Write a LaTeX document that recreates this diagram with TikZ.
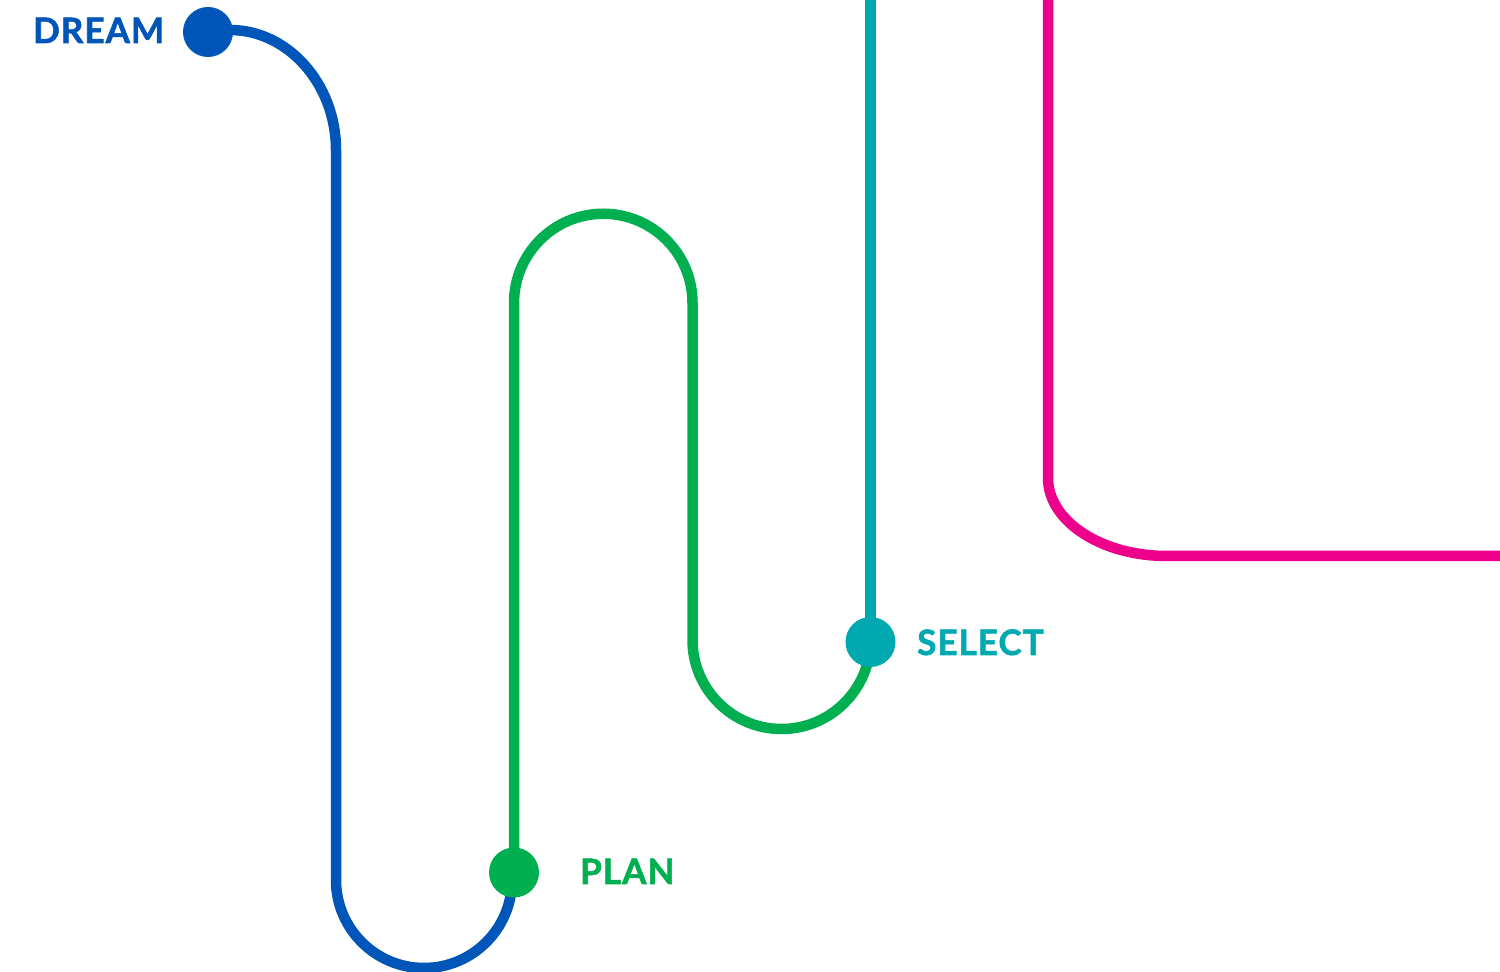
\documentclass[tikz,border=0pt]{standalone}
\usepackage{fontspec}
\newfontfamily\labelfont{Lato}[BoldFeatures={FakeBold=1.6}, LetterSpace=3]
\definecolor{dreamblue}{RGB}{0,85,184}
\definecolor{plangreen}{RGB}{0,176,80}
\definecolor{selectteal}{RGB}{0,169,176}
\definecolor{pathpink}{RGB}{236,0,140}
\tikzset{
  route/.style={line width=10.5pt, line cap=butt, line join=round},
  dot/.style={circle, inner sep=0pt, minimum size=50pt},
  stagelabel/.style={anchor=base west, inner sep=0pt, font=\labelfont\bfseries\fontsize{35}{42}\selectfont}
}
\begin{document}
\begin{tikzpicture}[x=1pt,y=1pt]
\useasboundingbox (0,0) rectangle (1500,972);
\coordinate (dreamc) at (208,940);
\coordinate (planc) at (514,99.5);
\coordinate (selectc) at (870.5,330);
\coordinate (tealtop) at (870.5,990);
\coordinate (pinktop) at (1048,990);
\coordinate (pinkend) at (1520,416);
% blue route
\draw[route, dreamblue] (dreamc) -- (230,942) .. controls (288,942) and (336,888) .. (336,822)
  -- (336,92) arc (180:360:88) -- (planc);
% green route
\draw[route, plangreen] (planc) -- (514,669) arc (180:0:89.25) -- (692.5,332) arc (180:360:89) -- (selectc);
% teal route
\draw[route, selectteal] (selectc) -- (tealtop);
% pink route
\draw[route, pathpink] (pinktop) -- (1048,494) .. controls (1048,451) and (1101,416) .. (1167,416) -- (pinkend);
% dots
\node[dot, fill=dreamblue] (dream) at (dreamc) {};
\node[dot, fill=plangreen] (plan) at (planc) {};
\node[dot, fill=selectteal] (select) at (selectc) {};
% labels
\node[stagelabel, text=dreamblue] (dreamlabel) at (33,929) {DREAM};
\node[stagelabel, text=plangreen] (planlabel) at (580,88) {PLAN};
\node[stagelabel, text=selectteal] (selectlabel) at (917,317) {SELECT};
\end{tikzpicture}
\end{document}
